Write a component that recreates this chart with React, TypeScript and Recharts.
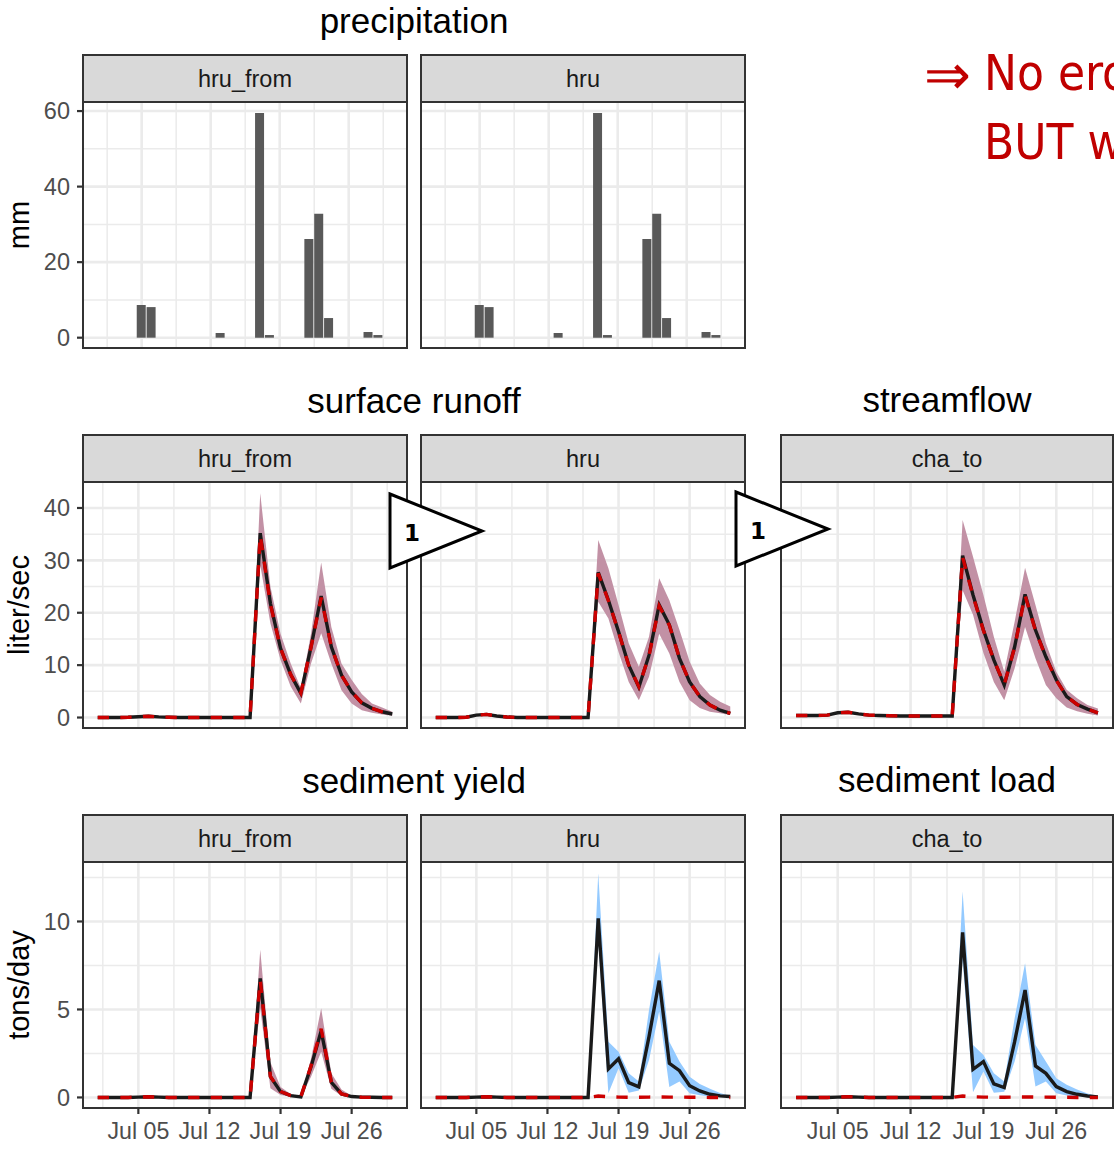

import React from 'react';
import { ComposedChart, Bar, Area, Line, XAxis, YAxis, CartesianGrid } from 'recharts';

const FONT = '"Liberation Sans", Arial, sans-serif';

const days = [1,2,3,4,5,6,7,8,9,10,11,12,13,14,15,16,17,18,19,20,21,22,23,24,25,26,27,28,29,30];
const xTicks = [5, 12, 19, 26];
const xMinor = [1.5, 8.5, 15.5, 22.5, 29.5];
const xTickLabels = ['Jul 05', 'Jul 12', 'Jul 19', 'Jul 26'];

const rainDays = [5, 6, 13, 17, 18, 22, 23, 24, 28, 29];
const rainValues = [8.65, 8.1, 1.24, 59.5, 0.7, 26.1, 32.8, 5.2, 1.5, 0.7];

const quietFrom = [0,0,0,0.05,0.15,0.25,0.12,0.05,0,0,0,0,0,0,0,0];
const quietHru = [0,0,0,0.05,0.45,0.6,0.3,0.1,0,0,0,0,0,0,0,0];
const quietCha = [0.4,0.4,0.4,0.45,0.9,1.0,0.7,0.45,0.4,0.35,0.3,0.3,0.3,0.3,0.3,0.3];
const quietSed = [0,0,0,0,0.02,0.04,0.02,0,0,0,0,0,0,0,0,0];

const runoffFromObs = [...quietFrom, 35.2,21.8,13.2,8.2,4.6,13.5,23.2,13.5,8.1,4.9,2.8,1.75,1.1,0.67];
const runoffFromLo = [...quietFrom, 29.1,18,11,5.9,2.7,10.3,16.1,10.3,5.2,2.7,1.4,0.9,0.6,0.35];
const runoffFromHi = [...quietFrom, 42.8,25,16,10.3,5.6,16,29.6,17.3,10.3,7.2,4.5,2.7,1.9,1.1];
const runoffFromSim = [...quietFrom, 34.8,21.6,13.2,8.2,4.7,13.4,22.9,13.5,8.1,4.9,2.8,1.75,1.1,0.67];

const runoffHruObs = [...quietHru, 27.7,22.4,16.4,10,5.8,11.9,21.5,17.7,11.3,6.8,4,2.4,1.4,0.8];
const runoffHruLo = [...quietHru, 22.1,18.9,12.5,6.8,3.3,7.8,16,12.2,6.8,3.3,1.8,1.1,0.8,0.5];
const runoffHruHi = [...quietHru, 33.9,28.5,21.5,14.2,9.7,15.4,26.6,22.4,16.7,10.7,6.5,4.3,3,2.1];
const runoffHruSim = [...quietHru, 27.5,22.3,16.3,10,5.9,11.8,21.3,17.6,11.3,6.8,4,2.4,1.4,0.8];

const flowObs = [...quietCha, 30.9,23.4,16.7,11,6.2,13.5,23.5,16.7,11.6,7.2,4,2.5,1.6,0.9];
const flowLo = [...quietCha, 24.3,19.6,12.3,6.8,3.3,9.4,17.3,11.3,6.2,3.7,1.9,1.2,0.7,0.4];
const flowHi = [...quietCha, 37.7,30.7,23.4,15.4,8.75,18.3,28.6,21.5,14.2,8.75,5.3,3.7,2.4,1.7];
const flowSim = [...quietCha, 30.6,23.2,16.6,11,6.3,13.4,23.3,16.6,11.5,7.1,4,2.5,1.6,0.9];

const sedFromObs = [...quietSed, 6.77,1.18,0.33,0.1,0.03,1.75,3.78,0.86,0.2,0.05,0.02,0.01,0,0];
const sedFromLo = [...quietSed, 5.07,0.52,0.14,0.04,0.01,1.18,2.6,0.5,0.1,0.02,0,0,0,0];
const sedFromHi = [...quietSed, 8.4,2,0.6,0.2,0.03,2.2,5.07,1.37,0.45,0.1,0.03,0.01,0,0];
const sedFromSim = [...quietSed, 6.65,1.2,0.34,0.1,0.03,1.8,3.9,0.88,0.2,0.05,0.01,0,0,0];

const sedHruObs = [...quietSed, 10.18,1.62,2.2,0.84,0.6,3.46,6.64,1.94,1.52,0.67,0.37,0.18,0.09,0.05];
const sedHruLo = [...quietSed, 8.85,0.24,1.66,0.27,0.39,2.13,4.88,0.6,0.9,0.24,0.12,0.06,0.03,0.01];
const sedHruHi = [...quietSed, 12.74,3.17,2.6,1.37,0.9,4.97,8.29,3.17,2.04,1.18,0.77,0.5,0.25,0.08];
const sedNoErosion = [...quietSed, 0.08,0.04,0.02,0.01,0.01,0.02,0.03,0.02,0.02,0.01,0.01,0,0,0];

const sedChaObs = [...quietSed, 9.38,1.6,2.04,0.77,0.56,3.17,6.1,1.79,1.37,0.62,0.33,0.18,0.08,0.03];
const sedChaLo = [...quietSed, 7.8,0.29,1.47,0.27,0.33,2.04,4.5,0.62,0.9,0.24,0.11,0.06,0.03,0.01];
const sedChaHi = [...quietSed, 11.7,2.98,2.41,1.37,0.9,4.5,7.62,2.98,2.04,1.09,0.72,0.45,0.22,0.07];

const MAUVE = '#C08DA1';
const BLUE = '#90C8FF';
const GRID = '#EBEBEB';
const BORDER = '#333333';

const PANELS = { a: { left: 83, w: 324 }, b: { left: 421, w: 324 }, c: { left: 781, w: 332 } };
const ROWS = { p: 102, r: 482, s: 862 };
const PLOT_H = 246;
const STRIP_H = 47;
const BW = 2.5;
const PAD = 16;

function zip(obs: number[], lo: number[], hi: number[], sim: number[]) {
  return days.map((day, i) => ({ day, obs: obs[i], lo: lo[i], hi: hi[i], sim: sim[i] }));
}
const rainData = rainDays.map((day, i) => ({ day, rain: rainValues[i] }));

type PanelProps = {
  col: 'a' | 'b' | 'c';
  top: number;
  strip: string;
  yDomain: [number, number];
  yMajor: number[];
  yMinor: number[];
  showY?: boolean;
  showX?: boolean;
  bars?: boolean;
  data?: any[];
  fill?: string;
};

function Panel({ col, top, strip, yDomain, yMajor, yMinor, showY, showX, bars, data, fill }: PanelProps) {
  const { left, w } = PANELS[col];
  const yW = showY ? left : 0;
  const xH = showX ? 41 : 0;
  const padBottom = showX ? 0 : PAD;
  const xDomain: [number, number] = bars ? [-0.95, 31.91] : [-0.45, 31.45];
  return (
    <>
      <div style={{ position: 'absolute', left: left - yW, top: top - PAD }}>
        <ComposedChart width={w + yW} height={PLOT_H + xH + PAD + padBottom} data={bars ? rainData : data} margin={{ top: PAD, right: 0, bottom: padBottom, left: 0 }}>
          <CartesianGrid stroke={GRID} strokeWidth={1.5} horizontalValues={yMinor} verticalValues={xMinor} syncWithTicks={false} />
          <CartesianGrid stroke={GRID} strokeWidth={2.6} horizontalValues={yMajor} verticalValues={xTicks} syncWithTicks={false} />
          <XAxis
            dataKey="day"
            type="number"
            domain={xDomain}
            allowDataOverflow
            ticks={xTicks}
            interval={0}
            hide={!showX}
            height={xH || undefined}
            axisLine={false}
            tickSize={6}
            tickMargin={9}
            tickLine={{ stroke: BORDER, strokeWidth: 2.2 }}
            tick={{ fontFamily: FONT, fontSize: 23.2, fill: '#4D4D4D' }}
            tickFormatter={(v: number) => xTickLabels[xTicks.indexOf(v)]}
          />
          <YAxis
            type="number"
            domain={yDomain}
            allowDataOverflow
            ticks={yMajor}
            interval={0}
            hide={!showY}
            width={yW || undefined}
            axisLine={false}
            tickSize={6}
            tickMargin={7}
            tickLine={{ stroke: BORDER, strokeWidth: 2.2 }}
            tick={{ fontFamily: FONT, fontSize: 23.5, fill: '#4D4D4D' }}
          />
          {bars ? <Bar dataKey="rain" fill="#595959" barSize={9} isAnimationActive={false} /> : null}
          {!bars ? <Area dataKey={(d: any) => [d.lo, d.hi]} stroke="none" fill={fill} fillOpacity={0.96} dot={false} activeDot={false} isAnimationActive={false} /> : null}
          {!bars ? <Line dataKey="obs" stroke="#1A1A1A" strokeWidth={3.4} dot={false} activeDot={false} isAnimationActive={false} /> : null}
          {!bars ? <Line dataKey="sim" stroke="#CC0000" strokeWidth={3.4} strokeDasharray="11.3 11.3" dot={false} activeDot={false} isAnimationActive={false} /> : null}
        </ComposedChart>
      </div>
      <div style={{ position: 'absolute', left: left - 1, top: top - STRIP_H - 1, width: w + 2, height: STRIP_H + 2, boxSizing: 'border-box', background: '#D9D9D9', border: `${BW}px solid ${BORDER}`, display: 'flex', alignItems: 'center', justifyContent: 'center', fontFamily: FONT, fontSize: 23.5, color: '#1A1A1A', paddingTop: 1 }}>
        {strip}
      </div>
      <div style={{ position: 'absolute', left: left - 1, top: top - 1, width: w + 2, height: PLOT_H + 2, boxSizing: 'border-box', border: `${BW}px solid ${BORDER}`, pointerEvents: 'none' }} />
    </>
  );
}

function Title({ cx, y, text }: { cx: number; y: number; text: string }) {
  return (
    <div style={{ position: 'absolute', left: cx - 200, width: 400, top: y - 20, height: 40, lineHeight: '40px', textAlign: 'center', fontFamily: FONT, fontSize: 35, color: '#000' }}>
      {text}
    </div>
  );
}

function YTitle({ cy, text }: { cy: number; text: string }) {
  return (
    <div style={{ position: 'absolute', left: 19 - 100, width: 200, top: cy - 20, height: 40, lineHeight: '40px', textAlign: 'center', transform: 'rotate(-90deg)', fontFamily: FONT, fontSize: 29, color: '#000' }}>
      {text}
    </div>
  );
}

function Flag({ x, y }: { x: number; y: number }) {
  return (
    <svg style={{ position: 'absolute', left: x - 3, top: y - 3, overflow: 'visible' }} width={100} height={84}>
      <polygon points="3,3 95,40 3,77" fill="#fff" stroke="#000" strokeWidth={3} />
      <text x={25} y={50} textAnchor="middle" fontFamily='"DejaVu Sans"' fontWeight="bold" fontSize={23} fill="#000">1</text>
    </svg>
  );
}

const runoffTicks = [0, 10, 20, 30, 40];
const runoffGridMinor = [5, 15, 25, 35];
const sedTicks = [0, 5, 10];
const sedGridMinor = [2.5, 7.5, 12.5];
const rainTicks = [0, 20, 40, 60];
const rainGridMinor = [10, 30, 50];
const rainDomain: [number, number] = [-2.73, 62.4];
const runoffDomain: [number, number] = [-2, 44.96];
const sedDomain: [number, number] = [-0.6, 13.38];

const RED_FONT = '"DejaVu Sans Condensed", "DejaVu Sans"';

export default function App() {
  return (
    <div style={{ position: 'absolute', left: 0, top: 0, width: 1114, height: 1149, overflow: 'hidden', background: '#fff' }}>
      <Title cx={414} y={21} text="precipitation" />
      <Title cx={414} y={401} text="surface runoff" />
      <Title cx={947} y={400} text="streamflow" />
      <Title cx={414} y={781} text="sediment yield" />
      <Title cx={947} y={780} text="sediment load" />
      <YTitle cy={225} text="mm" />
      <YTitle cy={605} text="liter/sec" />
      <YTitle cy={985} text="tons/day" />

      <Panel col="a" top={ROWS.p} strip="hru_from" yDomain={rainDomain} yMajor={rainTicks} yMinor={rainGridMinor} showY bars />
      <Panel col="b" top={ROWS.p} strip="hru" yDomain={rainDomain} yMajor={rainTicks} yMinor={rainGridMinor} bars />

      <Panel col="a" top={ROWS.r} strip="hru_from" yDomain={runoffDomain} yMajor={runoffTicks} yMinor={runoffGridMinor} showY data={zip(runoffFromObs, runoffFromLo, runoffFromHi, runoffFromSim)} fill={MAUVE} />
      <Panel col="b" top={ROWS.r} strip="hru" yDomain={runoffDomain} yMajor={runoffTicks} yMinor={runoffGridMinor} data={zip(runoffHruObs, runoffHruLo, runoffHruHi, runoffHruSim)} fill={MAUVE} />
      <Panel col="c" top={ROWS.r} strip="cha_to" yDomain={runoffDomain} yMajor={runoffTicks} yMinor={runoffGridMinor} data={zip(flowObs, flowLo, flowHi, flowSim)} fill={MAUVE} />

      <Panel col="a" top={ROWS.s} strip="hru_from" yDomain={sedDomain} yMajor={sedTicks} yMinor={sedGridMinor} showY showX data={zip(sedFromObs, sedFromLo, sedFromHi, sedFromSim)} fill={MAUVE} />
      <Panel col="b" top={ROWS.s} strip="hru" yDomain={sedDomain} yMajor={sedTicks} yMinor={sedGridMinor} showX data={zip(sedHruObs, sedHruLo, sedHruHi, sedNoErosion)} fill={BLUE} />
      <Panel col="c" top={ROWS.s} strip="cha_to" yDomain={sedDomain} yMajor={sedTicks} yMinor={sedGridMinor} showX data={zip(sedChaObs, sedChaLo, sedChaHi, sedNoErosion)} fill={BLUE} />

      <Flag x={390} y={494} />
      <Flag x={736} y={492} />

      <div style={{ position: 'absolute', left: 924, top: 40, fontFamily: '"Liberation Serif"', fontSize: 56, color: '#C00000', lineHeight: '70px', whiteSpace: 'nowrap' }}>⇒</div>
      <div style={{ position: 'absolute', left: 984, top: 39, fontFamily: RED_FONT, fontSize: 49, color: '#C00000', lineHeight: '69px', whiteSpace: 'nowrap' }}>No ero</div>
      <div style={{ position: 'absolute', left: 984, top: 108, fontFamily: RED_FONT, fontSize: 49, color: '#C00000', lineHeight: '69px', whiteSpace: 'nowrap' }}>BUT w</div>
    </div>
  );
}
